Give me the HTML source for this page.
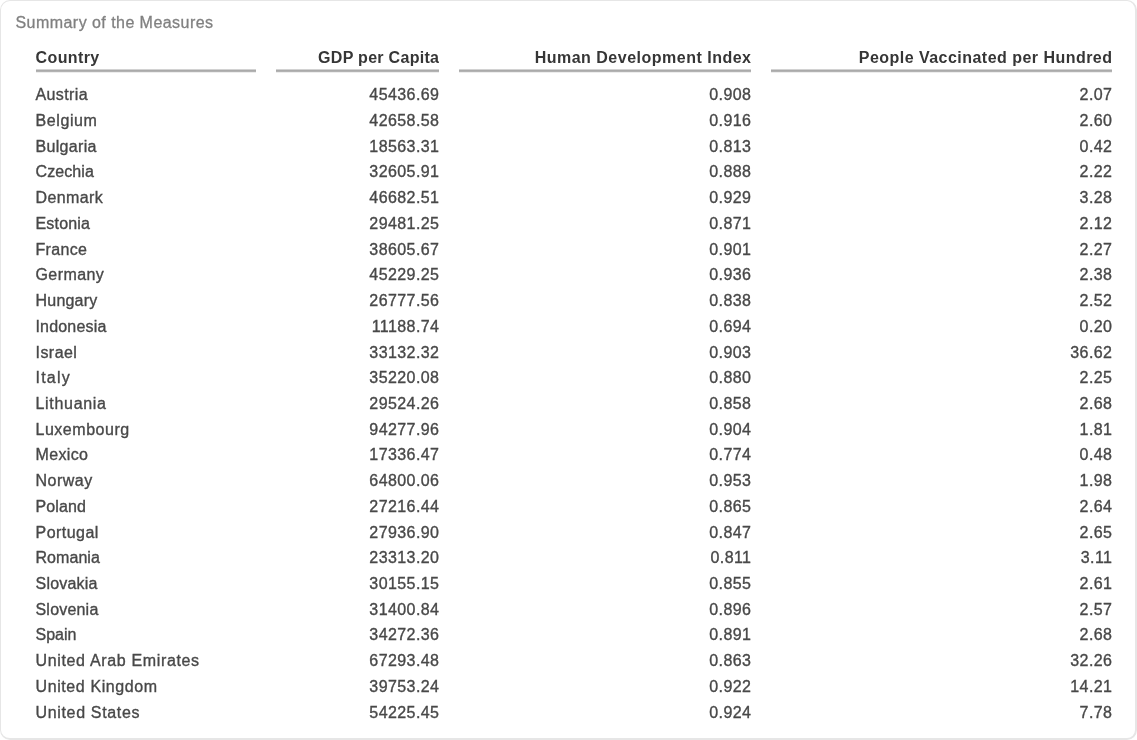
<!DOCTYPE html><html><head><meta charset="utf-8"><title>Summary of the Measures</title><style>
html,body{margin:0;padding:0;background:#fff;width:1137px;height:740px;overflow:hidden}
body{font-family:"Liberation Sans",sans-serif;position:relative}
.card{position:absolute;left:0px;top:0px;width:1137px;height:740px;border:solid #e6e6e6;border-width:1px 2px 2px 1px;border-radius:10px;box-sizing:border-box}
.t{position:absolute;white-space:nowrap;height:20px;line-height:20px}
.title{left:15.5px;top:12.5px;font-size:16px;color:#808080;letter-spacing:0.45px;-webkit-text-stroke:0.3px #808080}
.h{top:48px;font-size:16px;font-weight:bold;-webkit-text-stroke:0px #fff;color:#363636;letter-spacing:1.0px}
.u{position:absolute;top:69px;height:4px;background:linear-gradient(#d2d2d2 0 25%,#aaa 25% 50%,#b3b3b3 50% 75%,#ededed 75%)}
.c{font-size:16px;color:#484848;letter-spacing:0.6px;-webkit-text-stroke:0.35px #484848}
.n{font-size:16px;color:#484848;letter-spacing:0.42px;-webkit-text-stroke:0.35px #484848}
.r{text-align:right}
.layer{position:absolute;left:0;top:0;width:1137px;height:740px;will-change:transform}
</style></head><body>
<div class="card"></div>
<div class="layer">
<div class="t title">Summary of the Measures</div>
<div class="t h" style="left:35.5px;letter-spacing:0.4px">Country</div>
<div class="u" style="left:35.5px;width:220.5px"></div>
<div class="t h r" style="right:697.70px;letter-spacing:0.3px">GDP per Capita</div>
<div class="u" style="left:276px;width:163px"></div>
<div class="t h r" style="right:385.50px;letter-spacing:0.5px">Human Development Index</div>
<div class="u" style="left:458.5px;width:292.5px"></div>
<div class="t h r" style="right:24.53px;letter-spacing:0.47px">People Vaccinated per Hundred</div>
<div class="u" style="left:770.5px;width:341.5px"></div>
<div class="t c" style="left:35.5px;top:85.30px;letter-spacing:0.4px">Austria</div>
<div class="t n r" style="right:697.58px;top:85.30px">45436.69</div>
<div class="t n r" style="right:385.58px;top:85.30px">0.908</div>
<div class="t n r" style="right:24.58px;top:85.30px">2.07</div>
<div class="t c" style="left:35.5px;top:111.02px;letter-spacing:0.6px">Belgium</div>
<div class="t n r" style="right:697.58px;top:111.02px">42658.58</div>
<div class="t n r" style="right:385.58px;top:111.02px">0.916</div>
<div class="t n r" style="right:24.58px;top:111.02px">2.60</div>
<div class="t c" style="left:35.5px;top:136.74px;letter-spacing:0.314px">Bulgaria</div>
<div class="t n r" style="right:697.58px;top:136.74px">18563.31</div>
<div class="t n r" style="right:385.58px;top:136.74px">0.813</div>
<div class="t n r" style="right:24.58px;top:136.74px">0.42</div>
<div class="t c" style="left:35.5px;top:162.46px;letter-spacing:0.1px">Czechia</div>
<div class="t n r" style="right:697.58px;top:162.46px">32605.91</div>
<div class="t n r" style="right:385.58px;top:162.46px">0.888</div>
<div class="t n r" style="right:24.58px;top:162.46px">2.22</div>
<div class="t c" style="left:35.5px;top:188.18px;letter-spacing:0.4px">Denmark</div>
<div class="t n r" style="right:697.58px;top:188.18px">46682.51</div>
<div class="t n r" style="right:385.58px;top:188.18px">0.929</div>
<div class="t n r" style="right:24.58px;top:188.18px">3.28</div>
<div class="t c" style="left:35.5px;top:213.90px;letter-spacing:0.183px">Estonia</div>
<div class="t n r" style="right:697.58px;top:213.90px">29481.25</div>
<div class="t n r" style="right:385.58px;top:213.90px">0.871</div>
<div class="t n r" style="right:24.58px;top:213.90px">2.12</div>
<div class="t c" style="left:35.5px;top:239.62px;letter-spacing:0.32px">France</div>
<div class="t n r" style="right:697.58px;top:239.62px">38605.67</div>
<div class="t n r" style="right:385.58px;top:239.62px">0.901</div>
<div class="t n r" style="right:24.58px;top:239.62px">2.27</div>
<div class="t c" style="left:35.5px;top:265.34px;letter-spacing:0.417px">Germany</div>
<div class="t n r" style="right:697.58px;top:265.34px">45229.25</div>
<div class="t n r" style="right:385.58px;top:265.34px">0.936</div>
<div class="t n r" style="right:24.58px;top:265.34px">2.38</div>
<div class="t c" style="left:35.5px;top:291.06px;letter-spacing:0.217px">Hungary</div>
<div class="t n r" style="right:697.58px;top:291.06px">26777.56</div>
<div class="t n r" style="right:385.58px;top:291.06px">0.838</div>
<div class="t n r" style="right:24.58px;top:291.06px">2.52</div>
<div class="t c" style="left:35.5px;top:316.78px;letter-spacing:0.175px">Indonesia</div>
<div class="t n r" style="right:697.58px;top:316.78px">11188.74</div>
<div class="t n r" style="right:385.58px;top:316.78px">0.694</div>
<div class="t n r" style="right:24.58px;top:316.78px">0.20</div>
<div class="t c" style="left:35.5px;top:342.50px;letter-spacing:0.46px">Israel</div>
<div class="t n r" style="right:697.58px;top:342.50px">33132.32</div>
<div class="t n r" style="right:385.58px;top:342.50px">0.903</div>
<div class="t n r" style="right:24.58px;top:342.50px">36.62</div>
<div class="t c" style="left:35.5px;top:368.22px;letter-spacing:1.225px">Italy</div>
<div class="t n r" style="right:697.58px;top:368.22px">35220.08</div>
<div class="t n r" style="right:385.58px;top:368.22px">0.880</div>
<div class="t n r" style="right:24.58px;top:368.22px">2.25</div>
<div class="t c" style="left:35.5px;top:393.94px;letter-spacing:0.688px">Lithuania</div>
<div class="t n r" style="right:697.58px;top:393.94px">29524.26</div>
<div class="t n r" style="right:385.58px;top:393.94px">0.858</div>
<div class="t n r" style="right:24.58px;top:393.94px">2.68</div>
<div class="t c" style="left:35.5px;top:419.66px;letter-spacing:0.522px">Luxembourg</div>
<div class="t n r" style="right:697.58px;top:419.66px">94277.96</div>
<div class="t n r" style="right:385.58px;top:419.66px">0.904</div>
<div class="t n r" style="right:24.58px;top:419.66px">1.81</div>
<div class="t c" style="left:35.5px;top:445.38px;letter-spacing:0.36px">Mexico</div>
<div class="t n r" style="right:697.58px;top:445.38px">17336.47</div>
<div class="t n r" style="right:385.58px;top:445.38px">0.774</div>
<div class="t n r" style="right:24.58px;top:445.38px">0.48</div>
<div class="t c" style="left:35.5px;top:471.10px;letter-spacing:0.5px">Norway</div>
<div class="t n r" style="right:697.58px;top:471.10px">64800.06</div>
<div class="t n r" style="right:385.58px;top:471.10px">0.953</div>
<div class="t n r" style="right:24.58px;top:471.10px">1.98</div>
<div class="t c" style="left:35.5px;top:496.82px;letter-spacing:0.14px">Poland</div>
<div class="t n r" style="right:697.58px;top:496.82px">27216.44</div>
<div class="t n r" style="right:385.58px;top:496.82px">0.865</div>
<div class="t n r" style="right:24.58px;top:496.82px">2.64</div>
<div class="t c" style="left:35.5px;top:522.54px;letter-spacing:0.471px">Portugal</div>
<div class="t n r" style="right:697.58px;top:522.54px">27936.90</div>
<div class="t n r" style="right:385.58px;top:522.54px">0.847</div>
<div class="t n r" style="right:24.58px;top:522.54px">2.65</div>
<div class="t c" style="left:35.5px;top:548.26px;letter-spacing:0.05px">Romania</div>
<div class="t n r" style="right:697.58px;top:548.26px">23313.20</div>
<div class="t n r" style="right:385.58px;top:548.26px">0.811</div>
<div class="t n r" style="right:24.58px;top:548.26px">3.11</div>
<div class="t c" style="left:35.5px;top:573.98px;letter-spacing:0.214px">Slovakia</div>
<div class="t n r" style="right:697.58px;top:573.98px">30155.15</div>
<div class="t n r" style="right:385.58px;top:573.98px">0.855</div>
<div class="t n r" style="right:24.58px;top:573.98px">2.61</div>
<div class="t c" style="left:35.5px;top:599.70px;letter-spacing:0.2px">Slovenia</div>
<div class="t n r" style="right:697.58px;top:599.70px">31400.84</div>
<div class="t n r" style="right:385.58px;top:599.70px">0.896</div>
<div class="t n r" style="right:24.58px;top:599.70px">2.57</div>
<div class="t c" style="left:35.5px;top:625.42px;letter-spacing:0.025px">Spain</div>
<div class="t n r" style="right:697.58px;top:625.42px">34272.36</div>
<div class="t n r" style="right:385.58px;top:625.42px">0.891</div>
<div class="t n r" style="right:24.58px;top:625.42px">2.68</div>
<div class="t c" style="left:35.5px;top:651.14px;letter-spacing:0.653px">United Arab Emirates</div>
<div class="t n r" style="right:697.58px;top:651.14px">67293.48</div>
<div class="t n r" style="right:385.58px;top:651.14px">0.863</div>
<div class="t n r" style="right:24.58px;top:651.14px">32.26</div>
<div class="t c" style="left:35.5px;top:676.86px;letter-spacing:0.6px">United Kingdom</div>
<div class="t n r" style="right:697.58px;top:676.86px">39753.24</div>
<div class="t n r" style="right:385.58px;top:676.86px">0.922</div>
<div class="t n r" style="right:24.58px;top:676.86px">14.21</div>
<div class="t c" style="left:35.5px;top:702.58px;letter-spacing:0.658px">United States</div>
<div class="t n r" style="right:697.58px;top:702.58px">54225.45</div>
<div class="t n r" style="right:385.58px;top:702.58px">0.924</div>
<div class="t n r" style="right:24.58px;top:702.58px">7.78</div>
</div>
</body></html>
